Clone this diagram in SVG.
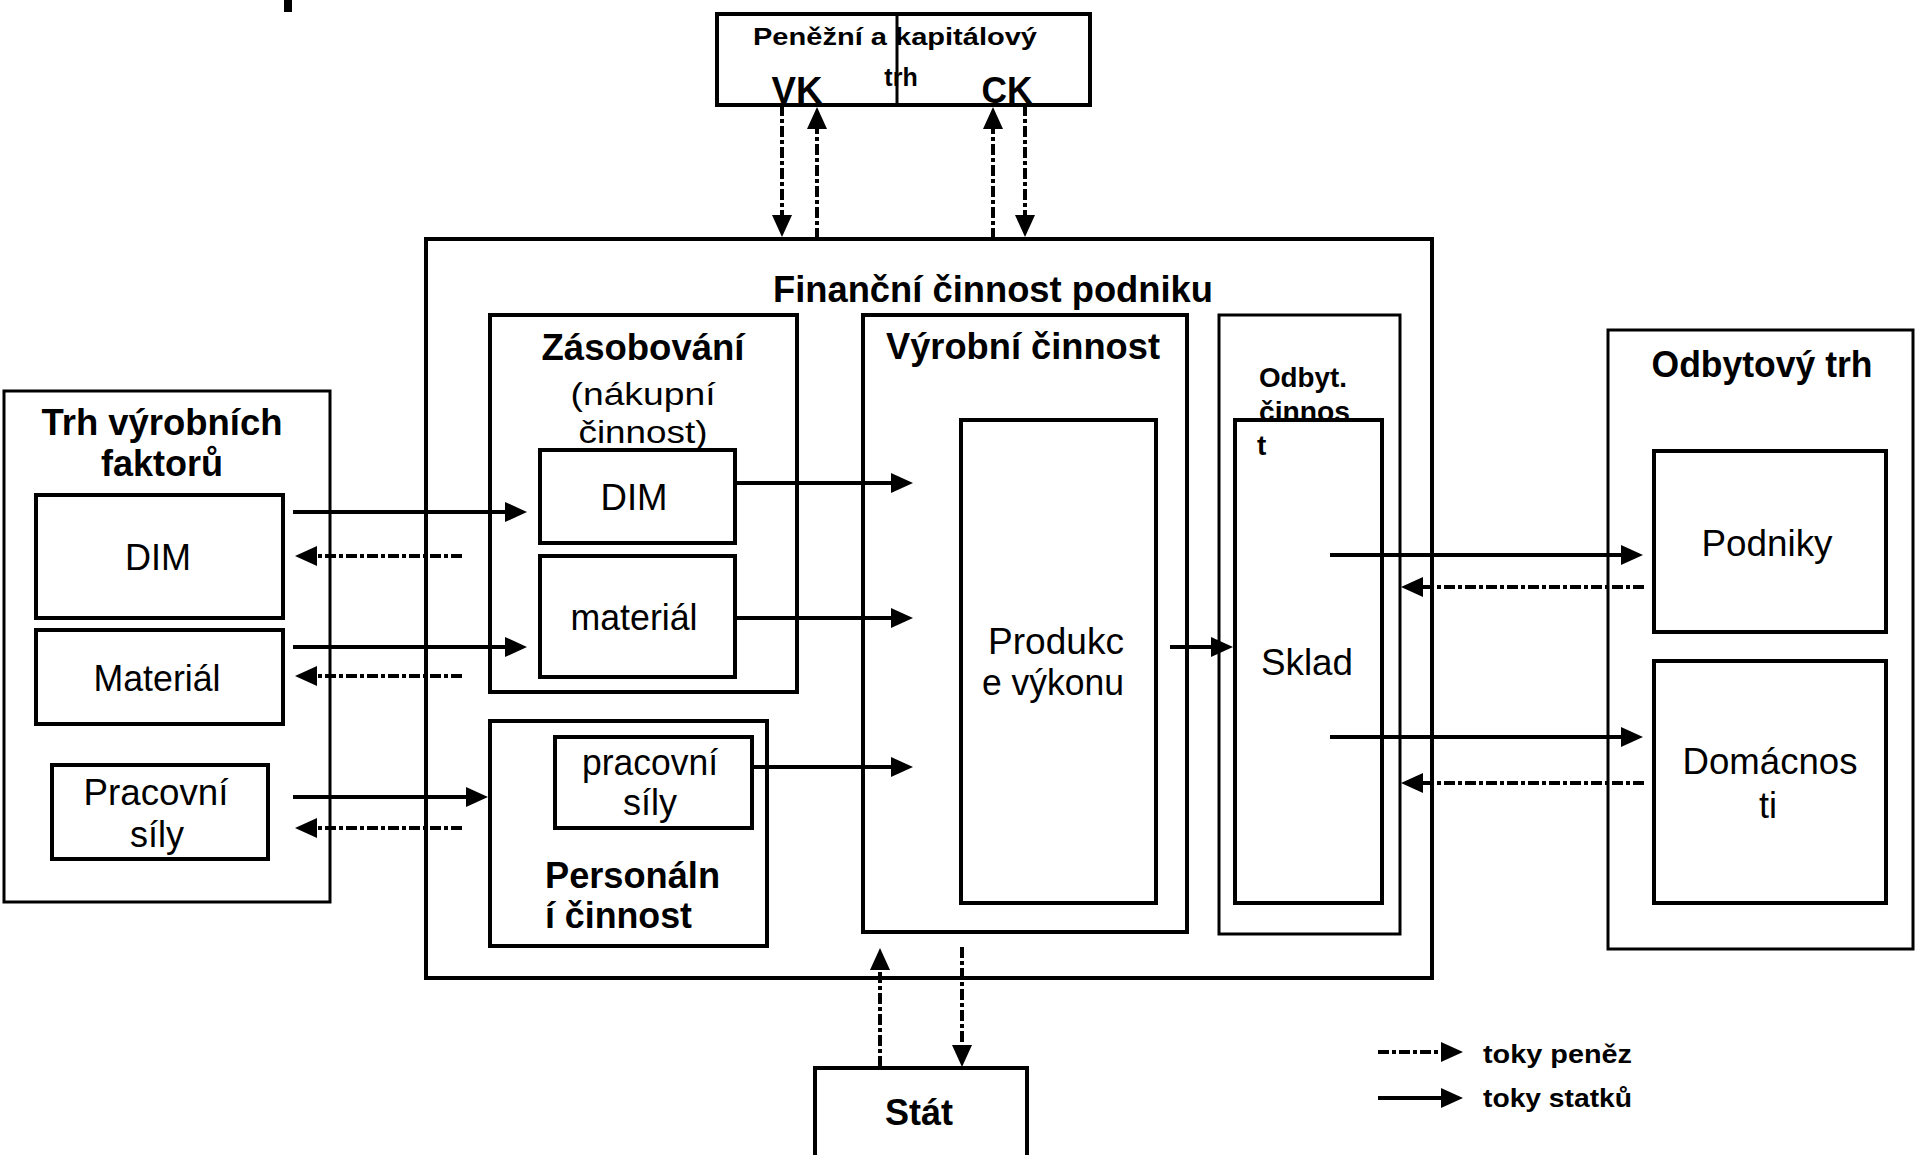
<svg xmlns="http://www.w3.org/2000/svg" width="1915" height="1155" viewBox="0 0 1915 1155">
<defs>
<style>
.b{fill:none;stroke:#000;stroke-width:4}
.t3{stroke-width:3}
.tx{font-family:"Liberation Sans",Arial,sans-serif;font-size:36px;fill:#000;text-anchor:middle}
.bd{font-weight:bold}
.s{fill:none;stroke:#000;stroke-width:4}
.d{fill:none;stroke:#000;stroke-width:4;stroke-dasharray:11 3 4 3}
</style>
<marker id="ah" viewBox="0 0 22 20" refX="10" refY="10" markerWidth="22" markerHeight="20" markerUnits="userSpaceOnUse" orient="auto"><path d="M0,0 L22,10 L0,20 Z" fill="#000"/></marker>
</defs>
<rect x="0" y="0" width="1915" height="1155" fill="#fff"/>
<rect x="284" y="0" width="8" height="12" fill="#000"/>

<g id="trh-vyrobnich-faktoru">
<rect class="b t3" x="4" y="391" width="326" height="511"/>
<text class="tx bd" x="162" y="435" textLength="241" lengthAdjust="spacingAndGlyphs">Trh výrobních</text>
<text class="tx bd" x="162" y="476">faktorů</text>
</g>
<g id="trh-dim">
<rect class="b" x="36" y="495" width="247" height="123"/>
<text class="tx" x="158" y="570" textLength="66" lengthAdjust="spacingAndGlyphs">DIM</text>
</g>
<g id="trh-material">
<rect class="b" x="36" y="630" width="247" height="94"/>
<text class="tx" x="157" y="691" textLength="127" lengthAdjust="spacingAndGlyphs">Materiál</text>
</g>
<g id="trh-pracovni-sily">
<rect class="b" x="52" y="765" width="216" height="94"/>
<text class="tx" x="156" y="805" textLength="145" lengthAdjust="spacingAndGlyphs">Pracovní</text>
<text class="tx" x="157" y="847">síly</text>
</g>

<g id="penezni-trh">
<rect class="b" x="717" y="14" width="373" height="91"/>
<line x1="897" y1="14" x2="897" y2="105" stroke="#000" stroke-width="3"/>
<text class="tx bd" x="895" y="45" style="font-size:24px" textLength="284" lengthAdjust="spacingAndGlyphs">Peněžní a kapitálový</text>
<text class="tx bd" x="901" y="86" style="font-size:25px">trh</text>
<text class="tx bd" x="797" y="103" style="font-size:37px" textLength="51" lengthAdjust="spacingAndGlyphs">VK</text>
<text class="tx bd" x="1007" y="103" style="font-size:37px" textLength="51" lengthAdjust="spacingAndGlyphs">CK</text>
</g>

<g id="financni-cinnost">
<rect class="b" x="426" y="239" width="1006" height="739"/>
<text class="tx bd" x="993" y="302" textLength="440" lengthAdjust="spacingAndGlyphs">Finanční činnost podniku</text>
</g>

<g id="zasobovani">
<rect class="b" x="490" y="315" width="307" height="377"/>
<text class="tx bd" x="643" y="360" textLength="203" lengthAdjust="spacingAndGlyphs">Zásobování</text>
<text class="tx" x="643" y="405" style="font-size:32px" textLength="145" lengthAdjust="spacingAndGlyphs">(nákupní</text>
<text class="tx" x="643" y="443" style="font-size:32px" textLength="129" lengthAdjust="spacingAndGlyphs">činnost)</text>
</g>
<g id="zas-dim">
<rect class="b" x="540" y="450" width="195" height="93"/>
<text class="tx" x="634" y="510" textLength="67" lengthAdjust="spacingAndGlyphs">DIM</text>
</g>
<g id="zas-material">
<rect class="b" x="540" y="556" width="195" height="121"/>
<text class="tx" x="634" y="630" textLength="127" lengthAdjust="spacingAndGlyphs">materiál</text>
</g>

<g id="personalni">
<rect class="b" x="490" y="721" width="277" height="225"/>
<text class="tx bd" x="545" y="888" style="text-anchor:start" textLength="175" lengthAdjust="spacingAndGlyphs">Personáln</text>
<text class="tx bd" x="545" y="928" style="text-anchor:start" textLength="147" lengthAdjust="spacingAndGlyphs">í činnost</text>
</g>
<g id="pers-pracovni-sily">
<rect class="b" x="555" y="737" width="197" height="91"/>
<text class="tx" x="650" y="775" textLength="136" lengthAdjust="spacingAndGlyphs">pracovní</text>
<text class="tx" x="650" y="815">síly</text>
</g>

<g id="vyrobni">
<rect class="b" x="863" y="315" width="324" height="617"/>
<text class="tx bd" x="1023" y="359" textLength="274" lengthAdjust="spacingAndGlyphs">Výrobní činnost</text>
</g>
<g id="produkce">
<rect class="b" x="961" y="420" width="195" height="483"/>
<text class="tx" x="1056" y="654" textLength="136" lengthAdjust="spacingAndGlyphs">Produkc</text>
<text class="tx" x="1053" y="695" textLength="142" lengthAdjust="spacingAndGlyphs">e výkonu</text>
</g>

<g id="odbyt-cinnost">
<rect class="b t3" x="1219" y="315" width="181" height="619"/>
<text class="tx bd" x="1259" y="387" style="text-anchor:start;font-size:28px" textLength="88" lengthAdjust="spacingAndGlyphs">Odbyt.</text>
<text class="tx bd" x="1259" y="421" style="text-anchor:start;font-size:28px" textLength="91" lengthAdjust="spacingAndGlyphs">činnos</text>
<text class="tx bd" x="1257" y="455" style="text-anchor:start;font-size:28px">t</text>
</g>
<g id="sklad">
<rect class="b" x="1235" y="420" width="147" height="483"/>
<text class="tx" x="1307" y="675" textLength="92" lengthAdjust="spacingAndGlyphs">Sklad</text>
</g>

<g id="odbytovy-trh">
<rect class="b t3" x="1608" y="330" width="305" height="619"/>
<text class="tx bd" x="1762" y="377" textLength="221" lengthAdjust="spacingAndGlyphs">Odbytový trh</text>
</g>
<g id="podniky">
<rect class="b" x="1654" y="451" width="232" height="181"/>
<text class="tx" x="1767" y="556" textLength="131" lengthAdjust="spacingAndGlyphs">Podniky</text>
</g>
<g id="domacnosti">
<rect class="b" x="1654" y="661" width="232" height="242"/>
<text class="tx" x="1770" y="774" textLength="175" lengthAdjust="spacingAndGlyphs">Domácnos</text>
<text class="tx" x="1768" y="818">ti</text>
</g>

<g id="stat">
<path class="b" d="M815,1160 V1068 H1027 V1160"/>
<text class="tx bd" x="919" y="1125" textLength="68" lengthAdjust="spacingAndGlyphs">Stát</text>
</g>

<g id="connectors">
<path class="s" d="M293,512 H515" marker-end="url(#ah)"/>
<path class="s" d="M293,647 H515" marker-end="url(#ah)"/>
<path class="s" d="M293,797 H476" marker-end="url(#ah)"/>
<path class="d" d="M462,556 H307" marker-end="url(#ah)"/>
<path class="d" d="M462,676 H307" marker-end="url(#ah)"/>
<path class="d" d="M462,828 H307" marker-end="url(#ah)"/>
<path class="s" d="M735,483 H901" marker-end="url(#ah)"/>
<path class="s" d="M735,618 H901" marker-end="url(#ah)"/>
<path class="s" d="M752,767 H901" marker-end="url(#ah)"/>
<path class="s" d="M1170,647 H1221" marker-end="url(#ah)"/>
<path class="s" d="M1330,555 H1631" marker-end="url(#ah)"/>
<path class="s" d="M1330,737 H1631" marker-end="url(#ah)"/>
<path class="d" d="M1644,587 H1413" marker-end="url(#ah)"/>
<path class="d" d="M1644,783 H1413" marker-end="url(#ah)"/>
<path class="d" d="M782,105 V225" marker-end="url(#ah)"/>
<path class="d" d="M817,239 V119" marker-end="url(#ah)"/>
<path class="d" d="M993,239 V119" marker-end="url(#ah)"/>
<path class="d" d="M1025,105 V225" marker-end="url(#ah)"/>
<path class="d" d="M880,1067 V960" marker-end="url(#ah)"/>
<path class="d" d="M962,947 V1055" marker-end="url(#ah)"/>
</g>

<g id="legend">
<path class="d" d="M1378,1052 H1451" marker-end="url(#ah)"/>
<path class="s" d="M1378,1098 H1451" marker-end="url(#ah)"/>
<text class="tx bd" x="1483" y="1063" style="text-anchor:start;font-size:26px" textLength="149" lengthAdjust="spacingAndGlyphs">toky peněz</text>
<text class="tx bd" x="1483" y="1107" style="text-anchor:start;font-size:26px" textLength="149" lengthAdjust="spacingAndGlyphs">toky statků</text>
</g>
</svg>
